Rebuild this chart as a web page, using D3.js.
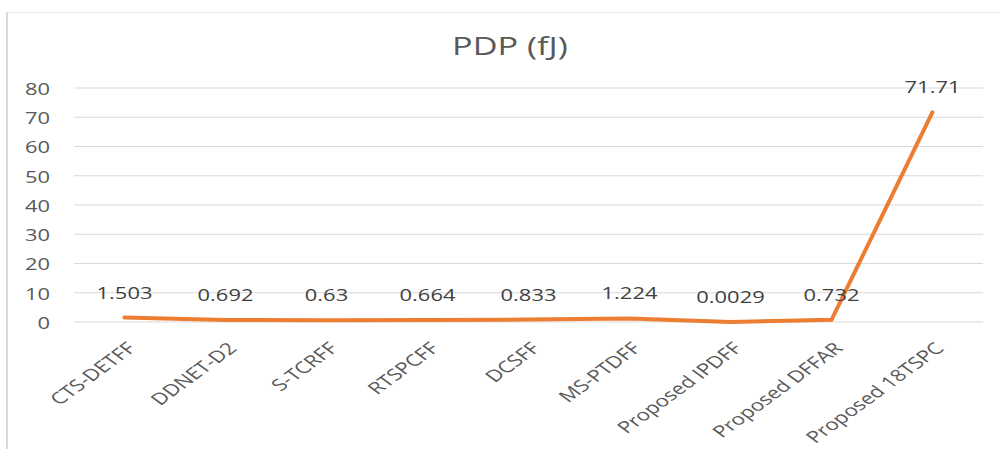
<!DOCTYPE html>
<html>
<head>
<meta charset="utf-8">
<script src="https://cdn.jsdelivr.net/npm/d3@7"></script>
<style>
  html, body { margin: 0; padding: 0; background: #fff; }
  svg { display: block; }
  text { font-family: "Open Sans", "DejaVu Sans", sans-serif; }
</style>
</head>
<body>
<svg id="chart" width="1001" height="449"></svg>
<script>
// PDP per flip-flop design, in fJ
const categories = ["CTS-DETFF", "DDNET-D2", "S-TCRFF", "RTSPCFF", "DCSFF", "MS-PTDFF",
                    "Proposed IPDFF", "Proposed DFFAR", "Proposed 18TSPC"];
const pdpValues = [1.503, 0.692, 0.63, 0.664, 0.833, 1.224, 0.0029, 0.732, 71.71];
const yTicks = [0, 10, 20, 30, 40, 50, 60, 70, 80];
const chartTitle = "PDP (fJ)";

const W = 1001, H = 449;
const plot = { left: 74, right: 983, top: 88, bottom: 322 };
const sx = 1.37; // horizontal text widening used throughout the chart

const svg = d3.select("#chart");

// outer frame
svg.append("line").attr("x1", 7).attr("x2", 7).attr("y1", 12).attr("y2", H)
  .attr("stroke", "#d9d9d9").attr("stroke-width", 2);
svg.append("line").attr("x1", 7).attr("x2", 1000).attr("y1", 12.5).attr("y2", 12.5)
  .attr("stroke", "#ececec").attr("stroke-width", 1);

const x = d3.scalePoint().domain(categories).range([plot.left, plot.right]).padding(0.5);
const y = d3.scaleLinear().domain([0, 80]).range([plot.bottom, plot.top]);

// horizontal gridlines
svg.append("g").selectAll("line").data(yTicks).join("line")
  .attr("x1", plot.left).attr("x2", plot.right)
  .attr("y1", d => y(d)).attr("y2", d => y(d))
  .attr("stroke", "#d9d9d9").attr("stroke-width", 1);

// y axis labels
const yAxis = d3.axisLeft(y).tickValues(yTicks).tickSize(0).tickPadding(0);
const gy = svg.append("g").attr("transform", `translate(50,0)`).call(yAxis);
gy.select(".domain").remove();
gy.selectAll(".tick text")
  .attr("x", null).attr("dy", null)
  .attr("dominant-baseline", "central")
  .attr("text-anchor", "end")
  .attr("transform", `scale(${sx},1)`)
  .attr("fill", "#595959")
  .style("font-size", "16px")
  .style("font-family", '"Open Sans", sans-serif');

// x axis labels, rotated
const xAxis = d3.axisBottom(x).tickSize(0).tickPadding(0);
const gx = svg.append("g").attr("transform", `translate(0,345)`).call(xAxis);
gx.select(".domain").remove();
gx.selectAll(".tick text")
  .attr("y", null).attr("dy", null)
  .attr("dominant-baseline", "central")
  .attr("text-anchor", "end")
  .attr("transform", `translate(6,0) scale(${sx},1) rotate(-45)`)
  .attr("fill", "#595959")
  .style("font-size", "16.3px")
  .style("font-family", '"Open Sans", sans-serif');

// the series line
const line = d3.line().x((d, i) => x(categories[i])).y(d => y(d));
svg.append("path").datum(pdpValues)
  .attr("d", line)
  .attr("fill", "none")
  .attr("stroke", "#ED7D31")
  .attr("stroke-width", 4)
  .attr("stroke-linejoin", "round")
  .attr("stroke-linecap", "round");

// value labels above each point
svg.append("g").selectAll("text").data(pdpValues).join("text")
  .attr("transform", (d, i) => `translate(${x(categories[i])},${y(d) - 19}) scale(${sx},1)`)
  .attr("text-anchor", "middle")
  .attr("fill", "#404040")
  .style("font-size", "16px")
  .text(d => String(d));

// title
svg.append("text")
  .attr("transform", `translate(510,55) scale(${sx},1)`)
  .attr("text-anchor", "middle")
  .attr("fill", "#595959")
  .style("font-size", "25px")
  .text(chartTitle);
</script>
</body>
</html>
